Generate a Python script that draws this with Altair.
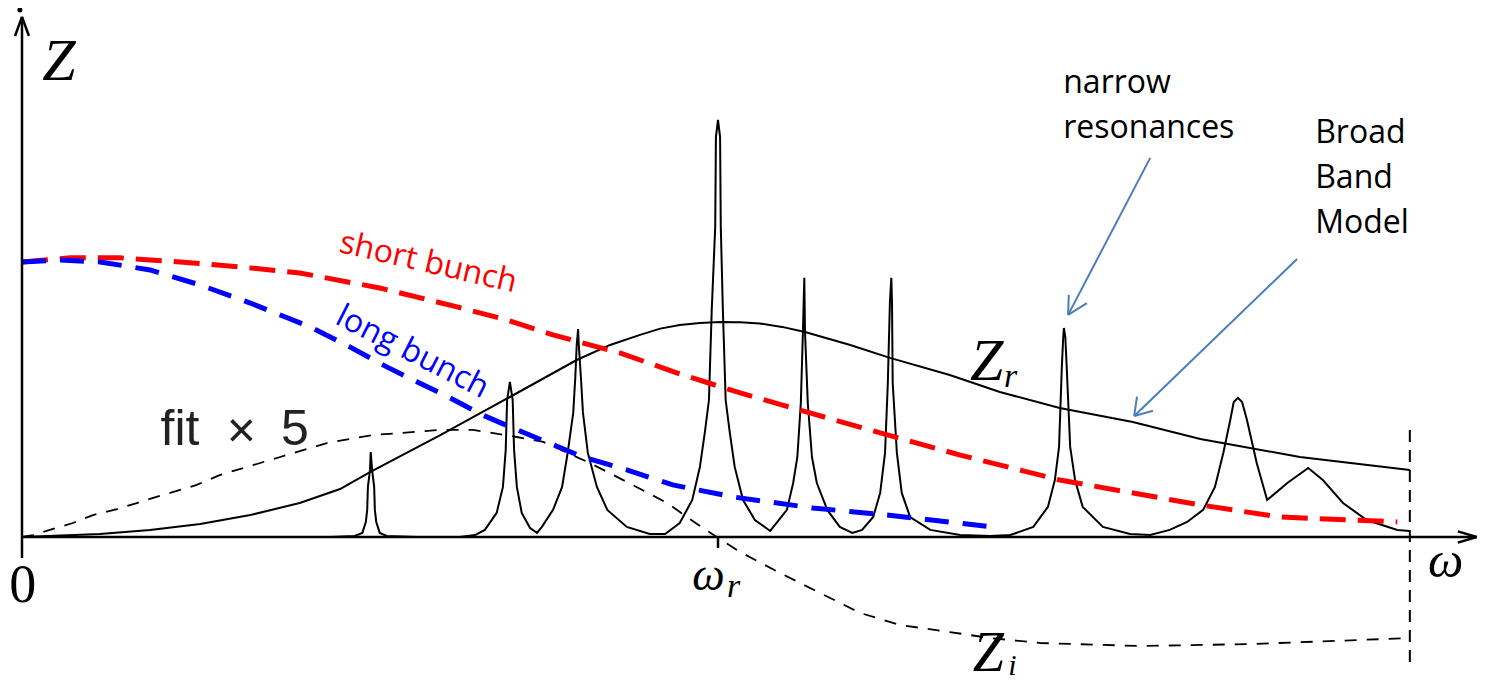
import altair as alt
import pandas as pd

# Units: omega in percent of omega_r (omega_r = 100); Z in percent of the broad-band peak.

# Broad band resonator Z_r (solid)
zr_w = [0, 11.2, 18.4, 25.6, 32.8, 39.9, 45.7, 50.0, 60.1, 70.1, 79.7, 84.5, 88.8, 91.7, 94.5, 97.4, 100.3,
        103.2, 106.0, 109.2, 112.5, 119.0, 124.7, 133.3, 140.5, 149.1, 159.6, 169.3, 183.6, 199.4]
zr_z = [0, 1.4, 3.3, 6.0, 10.2, 15.8, 22.3, 30.2, 47.4, 65.1, 82.3, 89.3, 94.0, 96.9, 98.6, 99.5, 100,
        99.9, 99.3, 97.7, 95.3, 89.3, 83.3, 75.3, 67.4, 60.0, 53.5, 45.6, 37.2, 31.2]

# Narrow resonances (solid)
res_w = [0, 44.3, 47.8, 48.9, 49.4, 49.6, 49.7, 50.0, 50.1, 50.3, 50.6, 50.7, 50.9, 51.4, 52.4, 56.8,
         62.9, 65.1, 66.5, 68.2, 69.1, 69.5, 69.7, 70.1, 70.5, 70.7, 71.1, 71.8, 73.0, 74.0,
         74.7, 76.3, 77.6, 78.4, 79.2, 79.5, 79.7, 79.9, 80.0, 80.3, 80.6, 81.3, 82.6, 84.1, 86.9, 90.2, 92.4,
         94.5, 96.3, 97.4, 98.1, 98.7, 99.1, 99.6, 99.7, 100.0, 100.3, 100.4, 100.7, 101.1, 101.7, 102.4, 103.6, 105.3, 107.5,
         109.9, 110.8, 111.4, 111.9, 112.2, 112.4, 112.5, 112.9, 113.5, 114.2, 115.7, 117.5, 119.3,
         120.7, 122.3, 123.3, 124.0, 124.4, 124.7, 124.9, 125.0, 125.1, 125.7, 126.4, 127.6, 130.5, 134.8, 139.1,
         142.0, 145.3, 147.4, 148.4, 149.0, 149.4, 149.6, 149.7, 149.9, 150.1, 150.6, 151.3, 152.4, 155.3, 159.2, 162.1,
         164.9, 167.4, 169.7, 171.4, 172.6, 173.6, 174.1, 174.7, 175.3, 176.0, 177.4, 178.9, 181.8, 184.8, 186.9, 189.8, 193.2, 197.6, 199.4]
res_z = [0, 0, 0.5, 1.9, 7.0, 12.6, 23.3, 31.2, 39.5, 31.2, 23.3, 12.6, 7.0, 1.9, 0.5, 0,
         0, 0.9, 3.3, 11.2, 23.3, 40.5, 63.7, 72.1, 63.7, 40.5, 23.3, 11.2, 4.2, 1.9,
         4.7, 12.6, 23.3, 39.1, 57.7, 74.4, 89.3, 96.7, 89.3, 74.4, 57.7, 39.1, 23.3, 12.6, 4.7, 1.4, 1.4,
         6.5, 17.2, 32.6, 48.4, 63.7, 105.6, 144.2, 186.0, 194.0, 186.0, 144.2, 105.6, 63.7, 48.4, 32.6, 17.2, 7.9, 2.8,
         12.6, 25.1, 37.2, 62.3, 95.3, 120.5, 95.3, 62.3, 37.2, 25.1, 12.6, 4.7, 1.9,
         3.3, 9.3, 20.5, 39.1, 71.6, 109.3, 120.5, 109.3, 71.6, 39.1, 20.5, 9.3, 3.3, 0.9, 0.5,
         0.9, 4.7, 14.0, 26.5, 41.9, 79.1, 93.0, 97.2, 93.0, 79.1, 41.9, 26.5, 14.0, 4.7, 1.4, 0.9,
         3.3, 7.0, 12.6, 23.3, 39.1, 54.4, 62.8, 64.7, 62.8, 54.4, 34.4, 17.2, 25.1, 32.1, 26.5, 15.8, 7.9, 3.3, 2.8]

# Short bunch spectrum (red dashed)
short_w = [0, 6.9, 14.1, 22.7, 31.3, 39.9, 51.4, 62.5, 69.7, 76.3, 85.9, 95.0, 103.2, 113.2,
           123.3, 134.8, 149.1, 169.3, 180.7, 197.6]
short_z = [127.9, 129.8, 129.8, 127.9, 125.6, 122.8, 115.8, 107.0, 100.9, 94.0, 85.6, 75.3, 67.0, 57.7,
           48.4, 38.1, 26.5, 14.9, 9.3, 7.0]

# Long bunch spectrum (blue dashed)
long_w = [0, 5.5, 11.2, 18.4, 25.6, 32.8, 41.4, 47.1, 52.4, 56.8, 61.5, 66.2, 70.5, 80.6,
          86.9, 93.5, 102.2, 113.6, 124.3, 139.5]
long_z = [127.9, 128.8, 127.9, 124.2, 117.2, 108.8, 97.7, 88.4, 79.1, 72.1, 64.7, 56.7, 50.7, 37.2,
          31.2, 24.2, 18.6, 13.5, 10.2, 4.7]

# fit x 5 and Z_i (black dashed)
fit_w = [0, 1.6, 4.0, 7.3, 10.2, 13.65, 16.5, 19.8, 25.1, 28.4, 37.1, 43.8, 50.4, 60.1, 64.8, 71.1,
         74.9, 81.6, 86.9, 92.7, 97.8, 103.2, 108.9, 111.8, 120.4, 126.1, 133.3, 139.1, 146.3,
         160.6, 176.4, 192.2, 199.4]
fit_z = [0, 0.9, 3.3, 6.5, 10.2, 13.0, 15.8, 19.1, 24.2, 28.8, 37.2, 43.7, 47.4, 49.8, 49.8, 46.5,
         44.2, 34.4, 25.6, 15.8, 4.2, -7.0, -16.7, -21.4, -35.3, -40.9, -44.2, -47.0, -49.3,
         -50.7, -49.8, -47.9, -47.0]

# Axes, tick and arrowheads: segments (w, z) -> (w2, z2)
axis_seg_w = [0, 0, 0, 0, 209.0, 209.0, 100]
axis_seg_z = [-9.8, 0, 241.9, 241.9, 0, 0, 0]
axis_seg_w2 = [0, 209.0, -1.0, 1.0, 206.3, 206.3, 100]
axis_seg_z2 = [241.9, 0, 233.0, 233.0, 2.6, -2.6, -5.1]

# cut-off line (dashed vertical)
cut_w = [199.4]
cut_z = [49.8]
cut_z2 = [-61.9]

# annotation arrows (blue-grey)
arr_w = [162.1, 150.3, 150.3, 183.2, 159.8, 159.8]
arr_z = [176.3, 103.3, 103.3, 129.3, 56.3, 56.3]
arr_w2 = [150.3, 150.4, 153.0, 159.8, 160.2, 162.5]
arr_z2 = [103.3, 112.6, 108.8, 56.3, 65.3, 58.7]

# texts
math_t = ["Z", "ω", "ω", "r", "Z", "r", "Z", "i"]
math_w = [2.9, 202.0, 96.3, 101.3, 136.2, 141.1, 136.6, 141.7]
math_z = [212.6, -18.6, -24.7, -27.9, 73.0, 69.8, -62.5, -64.2]
math_s = [60, 50, 46, 34, 60, 34, 56, 30]

zero_t = ["0"]
zero_w = [0.1]
zero_z = [-30.2]

fit_t = ["fit", "×", "5"]
fit_tw = [22.7, 31.5, 39.2]
fit_tz = [42.8, 41.9, 42.8]

lab_t = ["narrow", "resonances", "Broad", "Band", "Model", "short bunch", "long bunch"]
lab_w = [149.6, 149.6, 185.8, 185.8, 185.8, 45.4, 44.8]
lab_z = [206.5, 185.6, 183.3, 162.3, 141.4, 132.6, 99.5]
lab_a = [0, 0, 0, 0, 0, 13, 27]
lab_c = ["#000000", "#000000", "#000000", "#000000", "#000000", "#ff0000", "#0000ff"]

dot_w = [-0.3]
dot_z = [245.1]

W, H = 1469, 675
xs = alt.Scale(domain=[-2.01, 209.05], nice=False, zero=False)
ys = alt.Scale(domain=[-67.9, 246.0], nice=False, zero=False)


def X(f="w"):
    return alt.X(f + ":Q", scale=xs, axis=None)


def Y(f="z"):
    return alt.Y(f + ":Q", scale=ys, axis=None)


def line_layer(ws, zs, **kw):
    df = pd.DataFrame({"w": ws, "z": zs, "i": list(range(len(ws)))})
    return alt.Chart(df).mark_line(**kw).encode(x=X(), y=Y(), order="i:Q")


def seg_layer(w, z, w2, z2, **kw):
    df = pd.DataFrame({"w": w, "z": z, "w2": w2, "z2": z2})
    return alt.Chart(df).mark_rule(**kw).encode(x=X(), y=Y(), x2="w2:Q", y2="z2:Q")


fit_line = line_layer(fit_w, fit_z, color="black", strokeWidth=1.8, strokeDash=[12, 10])
zr_line = line_layer(zr_w, zr_z, color="black", strokeWidth=2)
res_line = line_layer(res_w, res_z, color="black", strokeWidth=2, strokeJoin="miter")
short_line = line_layer(short_w, short_z, color="#ff0000", strokeWidth=5, strokeDash=[26, 12])
long_line = line_layer(long_w, long_z, color="#0000ff", strokeWidth=5, strokeDash=[24, 14])

axes = seg_layer(axis_seg_w, axis_seg_z, axis_seg_w2, axis_seg_z2, color="black", strokeWidth=2.5)
cut = alt.Chart(pd.DataFrame({"w": cut_w, "z": cut_z, "z2": cut_z2})).mark_rule(
    color="black", strokeWidth=2, strokeDash=[12, 8]).encode(x=X(), y=Y(), y2="z2:Q")
arrows = seg_layer(arr_w, arr_z, arr_w2, arr_z2, color="#4a7ebb", strokeWidth=2)

dot = alt.Chart(pd.DataFrame({"w": dot_w, "z": dot_z})).mark_point(
    filled=True, color="black", size=25, opacity=1).encode(x=X(), y=Y())

math_txt = alt.Chart(pd.DataFrame({"t": math_t, "w": math_w, "z": math_z, "s": math_s})).mark_text(
    font="Liberation Serif", fontStyle="italic", align="left", baseline="alphabetic", color="black"
).encode(x=X(), y=Y(), text="t:N", size=alt.Size("s:Q", scale=None))

zero_txt = alt.Chart(pd.DataFrame({"t": zero_t, "w": zero_w, "z": zero_z})).mark_text(
    font="Liberation Serif", fontSize=54, align="center", baseline="alphabetic", color="black"
).encode(x=X(), y=Y(), text="t:N")

fit_txt = alt.Chart(pd.DataFrame({"t": fit_t, "w": fit_tw, "z": fit_tz})).mark_text(
    font="Liberation Sans", fontSize=50, align="center", baseline="alphabetic", color="#222222"
).encode(x=X(), y=Y(), text="t:N")

lab_txt = alt.Chart(pd.DataFrame({"t": lab_t, "w": lab_w, "z": lab_z, "a": lab_a, "c": lab_c})).mark_text(
    font="Open Sans", fontSize=32, align="left", baseline="alphabetic"
).encode(x=X(), y=Y(), text="t:N", angle=alt.Angle("a:Q", scale=None),
         color=alt.Color("c:N", scale=None))

chart = alt.layer(
    fit_line, zr_line, res_line, short_line, long_line, axes, cut, arrows, dot,
    math_txt, zero_txt, fit_txt, lab_txt
).properties(
    width=W, height=H, padding=0, autosize=alt.AutoSizeParams(type="none")
).configure_view(stroke=None)

chart.save("out.html", embed_options={"renderer": "svg", "actions": False})
